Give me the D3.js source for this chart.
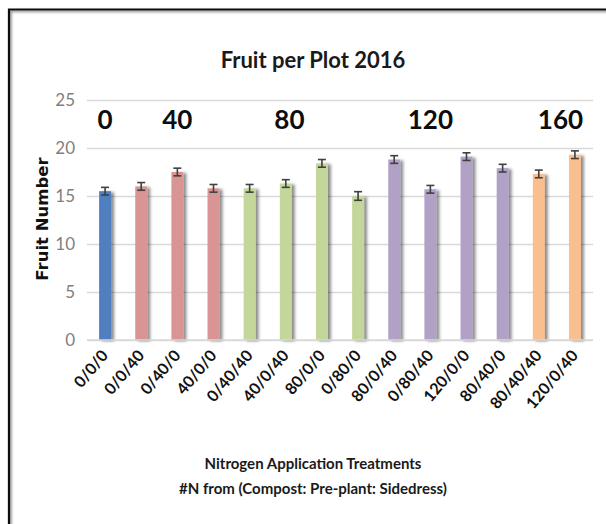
<!DOCTYPE html>
<html><head><meta charset="utf-8">
<script src="https://cdn.jsdelivr.net/npm/d3@7"></script>
<style>
html,body{margin:0;padding:0;background:#fff;}
svg{display:block;}
</style></head>
<body>
<script>
// ---- data ----
const categories = ["0/0/0","0/0/40","0/40/0","40/0/0","0/40/40","40/0/40","80/0/0","0/80/0","80/0/40","0/80/40","120/0/0","80/40/0","80/40/40","120/0/40"];
const fruitNumber = [15.5, 16.0, 17.5, 15.8, 15.8, 16.3, 18.4, 15.0, 18.8, 15.7, 19.1, 17.9, 17.3, 19.3];
const errorValues = [0.4, 0.4, 0.4, 0.4, 0.4, 0.4, 0.4, 0.45, 0.4, 0.4, 0.4, 0.4, 0.4, 0.4];
const nGroup = ["0","40","40","40","80","80","80","80","120","120","120","120","160","160"];
const groupLabels = ["0","40","80","120","160"];
const yTicks = [0,5,10,15,20,25];

// ---- layout ----
const W = 606, H = 524;
const groupColors = {"0":"#4f7fbf","40":"#d99593","80":"#c4d79b","120":"#b2a1c7","160":"#fabf8f"};
// fractional category index where each group label is centred
const groupLabelIndex = [0, 2, 5.1, 9, 12.6];

const svg = d3.select("body").append("svg").attr("width", W).attr("height", H);
const defs = svg.append("defs");
const f = defs.append("filter").attr("id","shadow").attr("x","-50%").attr("y","-10%").attr("width","250%").attr("height","130%");
f.append("feDropShadow").attr("dx",3).attr("dy",1).attr("stdDeviation",1.6).attr("flood-color","#000").attr("flood-opacity",0.45);
const fr = defs.append("filter").attr("id","frameShadow").attr("x","-5%").attr("y","-5%").attr("width","110%").attr("height","110%");
fr.append("feDropShadow").attr("dx",1.5).attr("dy",1.5).attr("stdDeviation",1).attr("flood-color","#000").attr("flood-opacity",0.5);

// frame
svg.append("path").attr("d", `M9,${H+5} L9,9.5 L${W+5},9.5`).attr("fill","none")
  .attr("stroke","#111").attr("stroke-width",2.2).attr("filter","url(#frameShadow)");

const x = d3.scaleBand().domain(categories).range([87, 593]).paddingInner(0.67).paddingOuter(0.335);
const y = d3.scaleLinear().domain([0, 25]).range([340, 100]);
const xi = d3.scaleLinear().domain([0, categories.length-1])
  .range([x(categories[0]) + x.bandwidth()/2, x(categories[categories.length-1]) + x.bandwidth()/2]);

// title
svg.append("text").attr("x", 313).attr("y", 68).attr("text-anchor","middle")
  .attr("font-family","Lato, 'Open Sans', sans-serif").attr("font-weight","bold").attr("font-size",22)
  .attr("fill","#1a1a1a").text("Fruit per Plot 2016");

// gridlines + y axis
const yAxis = d3.axisLeft(y).tickValues(yTicks).tickSize(-(593-87)).tickPadding(12);
const gy = svg.append("g").attr("transform","translate(87,0)").call(yAxis);
gy.select(".domain").remove();
gy.selectAll(".tick line").attr("stroke","#d9d9d9").attr("stroke-width",1.5);
gy.selectAll(".tick text").attr("fill","#7f7f7f").attr("font-family","Lato, 'Open Sans', sans-serif")
  .attr("font-size",17);

// y axis title
svg.append("text").attr("transform","translate(48,219) rotate(-90)").attr("text-anchor","middle")
  .attr("font-family","'DejaVu Sans', sans-serif").attr("font-weight","bold").attr("font-size",16.5)
  .attr("fill","#111").text("Fruit Number");

// bars
svg.append("g").selectAll("rect").data(categories).join("rect")
  .attr("x", d => x(d)).attr("width", x.bandwidth())
  .attr("y", (d,i) => y(fruitNumber[i])).attr("height", (d,i) => y(0) - y(fruitNumber[i]))
  .attr("fill", (d,i) => groupColors[nGroup[i]]).attr("filter","url(#shadow)");

// error bars
const eb = svg.append("g").attr("stroke","#404040").attr("stroke-width",1.6);
categories.forEach((c,i) => {
  const cx = x(c) + x.bandwidth()/2;
  const y1 = y(fruitNumber[i] + errorValues[i]), y2 = y(fruitNumber[i] - errorValues[i]);
  eb.append("line").attr("x1",cx).attr("x2",cx).attr("y1",y1).attr("y2",y2);
  eb.append("line").attr("x1",cx-4).attr("x2",cx+4).attr("y1",y1).attr("y2",y1);
  eb.append("line").attr("x1",cx-4).attr("x2",cx+4).attr("y1",y2).attr("y2",y2);
});

// x axis (baseline + rotated labels)
const xAxis = d3.axisBottom(x).tickSize(0).tickPadding(0);
const gx = svg.append("g").attr("transform","translate(0,340)").call(xAxis);
gx.select(".domain").attr("stroke","#d9d9d9").attr("stroke-width",1.5).attr("d","M87,0H593");
gx.selectAll(".tick text")
  .attr("font-family","Lato, 'Open Sans', sans-serif").attr("font-weight","bold").attr("font-size",16)
  .attr("fill","#111").attr("text-anchor","end").attr("dy","0")
  .attr("transform","translate(4,16) rotate(-50)");

// group labels
svg.append("g").selectAll("text").data(groupLabels).join("text")
  .attr("x", (d,i) => xi(groupLabelIndex[i])).attr("y", 129).attr("text-anchor","middle")
  .attr("font-family","Lato, 'Open Sans', sans-serif").attr("font-weight","bold").attr("font-size",26)
  .attr("fill","#0d0d0d").text(d => d);

// x axis title
const xt = svg.append("text").attr("text-anchor","middle")
  .attr("font-family","Lato, 'Open Sans', sans-serif").attr("font-weight","bold").attr("font-size",15).attr("fill","#1a1a1a");
xt.append("tspan").attr("x",313).attr("y",469).text("Nitrogen Application Treatments");
xt.append("tspan").attr("x",313).attr("y",494).text("#N from (Compost: Pre-plant: Sidedress)");
</script>
</body></html>
